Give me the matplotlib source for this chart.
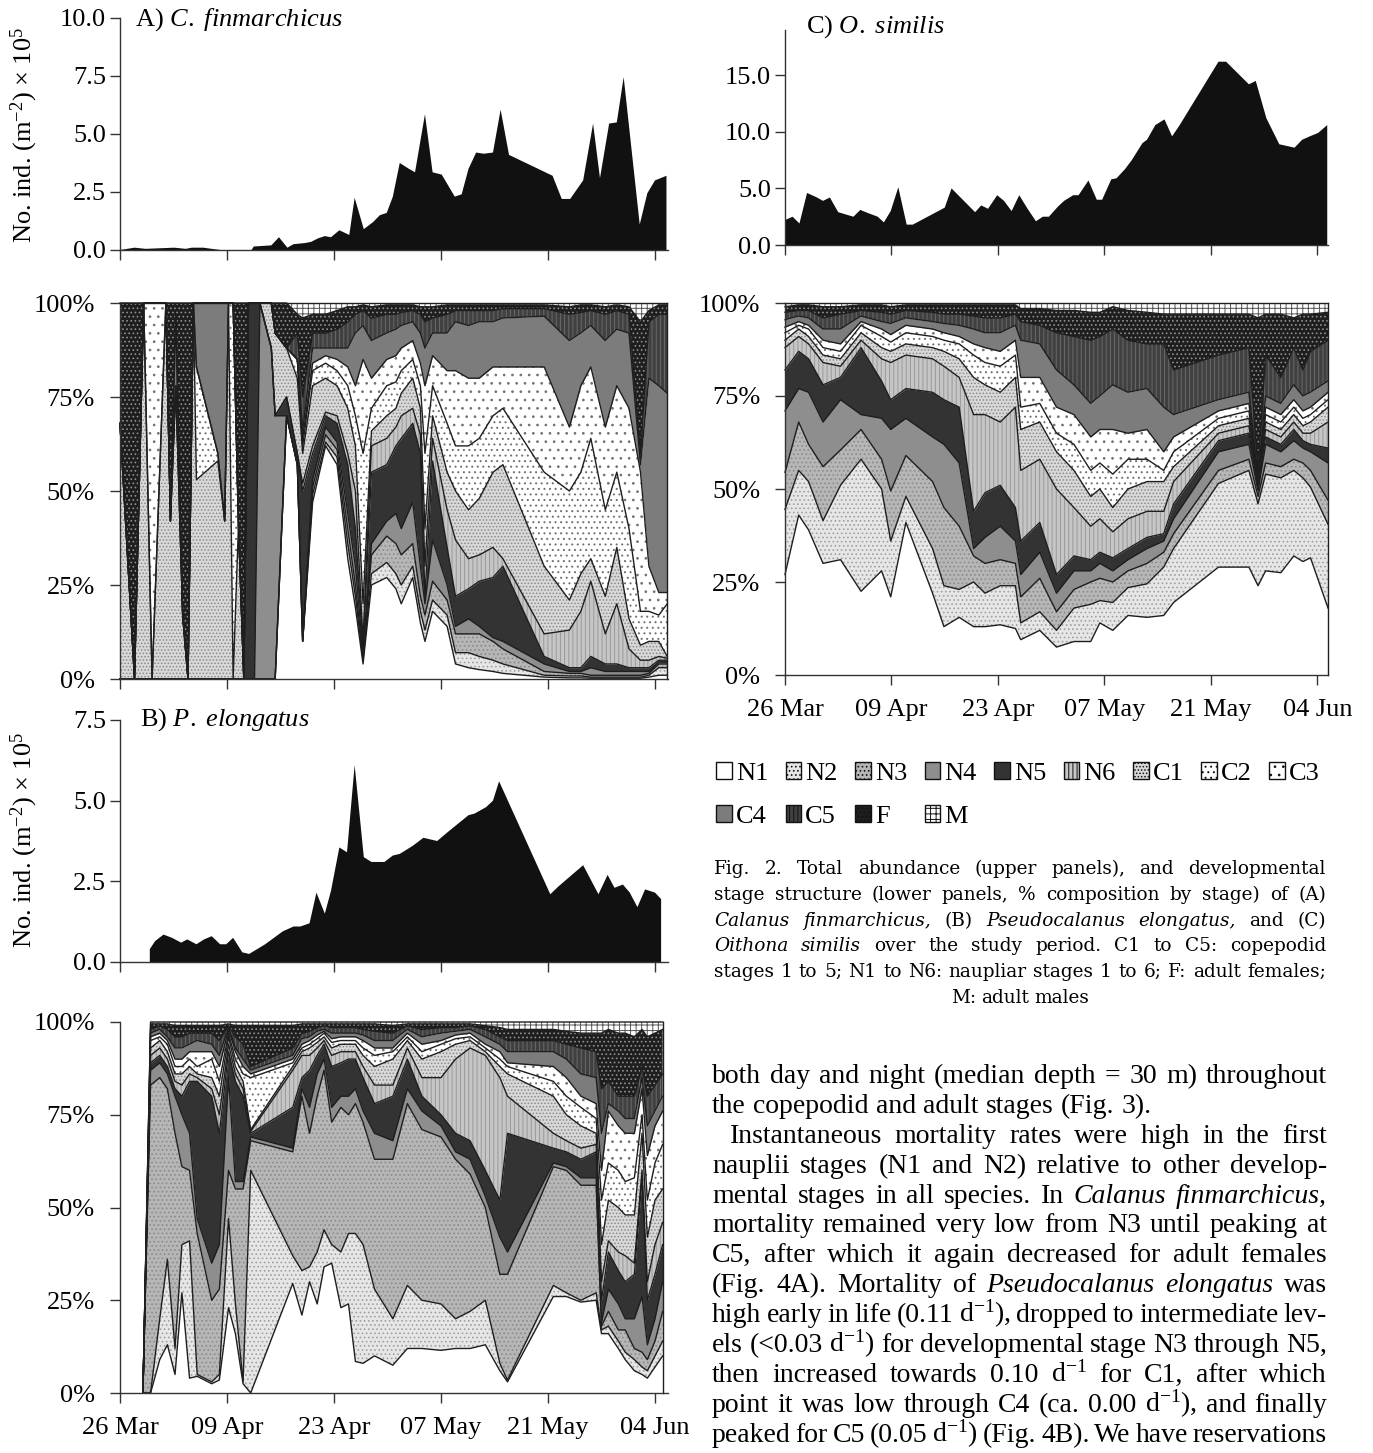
import numpy as np
import matplotlib.pyplot as plt
from matplotlib.patches import Patch

plt.rcParams['font.family'] = ['Liberation Serif', 'DejaVu Serif']
plt.rcParams['mathtext.fontset'] = 'custom'
plt.rcParams['mathtext.rm'] = 'Liberation Serif'
plt.rcParams['mathtext.it'] = 'Liberation Serif:italic'
plt.rcParams['mathtext.bf'] = 'Liberation Serif:bold'
plt.rcParams['hatch.linewidth'] = 0.7

# ---------------- data (days after 26 Mar) ----------------
date_ticks = [0, 14, 28, 42, 56, 70]
date_labels = ['26 Mar', '09 Apr', '23 Apr', '07 May', '21 May', '04 Jun']
stages = ['N1', 'N2', 'N3', 'N4', 'N5', 'N6', 'C1', 'C2', 'C3', 'C4', 'C5', 'F', 'M']

# total abundance (x 10^5 ind m-2)
a_abund_days = [0, 1.9, 3.35, 7.1, 8.6, 9.4, 10.9, 12.0, 13.2, 17.2, 17.5, 19.8, 20.8, 21.9, 22.7, 24.2,
                25.0, 25.9, 26.8, 27.6, 28.7, 30.0, 30.7, 31.9, 33.1, 34.0, 34.9, 35.7, 36.6, 37.8, 38.6,
                39.9, 40.9, 42.1, 43.8, 44.7, 45.6, 46.6, 47.6, 48.8, 49.8, 50.9, 56.6, 57.8, 58.9, 60.6,
                61.9, 62.8, 64.0, 65.0, 65.9, 68.0, 69.0, 70.0, 71.5]
a_abund = [0.0, 0.1, 0.05, 0.1, 0.05, 0.1, 0.1, 0.05, 0.0, 0.0, 0.15, 0.2, 0.55, 0.1, 0.25, 0.3, 0.35, 0.5,
           0.6, 0.55, 0.85, 0.65, 2.25, 0.9, 1.2, 1.5, 1.6, 2.3, 3.75, 3.5, 3.35, 5.85, 3.35, 3.25, 2.3,
           2.4, 3.5, 4.2, 4.15, 4.2, 6.05, 4.1, 3.2, 2.2, 2.2, 3.0, 5.45, 3.1, 5.45, 5.5, 7.45, 1.1, 2.45,
           3.0, 3.2]

b_abund_days = [3.9, 3.9, 4.6, 5.7, 6.8, 8.0, 8.8, 10.0, 11.0, 12.0, 13.1, 13.9, 14.8, 16.0, 16.9, 19.0,
                21.3, 22.7, 23.6, 24.8, 25.7, 26.8, 27.6, 28.7, 29.7, 30.7, 31.9, 32.9, 34.6, 35.7, 36.6,
                38.3, 39.7, 41.5, 43.0, 45.6, 46.4, 47.9, 48.8, 49.6, 56.3, 57.4, 60.6, 62.6, 63.8, 64.7,
                65.8, 66.7, 67.7, 68.7, 70.0, 70.8]
b_abund = [0, 0.4, 0.65, 0.85, 0.75, 0.6, 0.7, 0.55, 0.7, 0.8, 0.55, 0.55, 0.75, 0.3, 0.25, 0.55, 0.95,
           1.1, 1.1, 1.2, 2.15, 1.5, 2.2, 3.55, 3.4, 6.1, 3.25, 3.1, 3.1, 3.3, 3.35, 3.6, 3.85, 3.75, 4.05,
           4.55, 4.6, 4.8, 5.0, 5.6, 2.1, 2.35, 3.0, 2.1, 2.7, 2.3, 2.4, 2.15, 1.7, 2.25, 2.15, 1.95]

c_abund_days = [0, 1.0, 1.9, 2.9, 4.2, 5.0, 5.9, 7.0, 9.0, 9.9, 11.0, 12.2, 13.0, 13.9, 14.9, 16.0, 16.8,
                21.0, 21.9, 25.0, 25.8, 26.7, 27.9, 28.8, 29.8, 30.8, 31.9, 33.0, 33.9, 34.7, 35.9, 36.7,
                37.9, 38.6, 39.9, 41.0, 41.7, 42.9, 43.6, 44.7, 45.6, 47.0, 47.6, 48.7, 49.9, 50.9, 51.9,
                57.0, 58.0, 61.0, 61.9, 63.3, 65.0, 67.0, 68.0, 69.0, 70.1, 71.3]
c_abund = [2.2, 2.5, 1.9, 4.6, 4.2, 3.9, 4.2, 2.9, 2.5, 3.1, 2.8, 2.5, 2.0, 3.0, 5.1, 1.8, 1.8, 3.3, 5.0,
           2.9, 3.5, 3.2, 4.4, 3.9, 3.0, 4.4, 3.2, 2.1, 2.5, 2.5, 3.4, 3.9, 4.4, 4.4, 5.7, 4.0, 4.0, 5.8,
           5.9, 6.7, 7.5, 9.0, 9.3, 10.6, 11.1, 9.6, 10.6, 16.2, 16.2, 14.2, 14.5, 11.2, 8.9, 8.6, 9.3,
           9.6, 9.9, 10.6]

# stage composition: cumulative % at the top of each stage (N1 ... F); M fills to the top
a_days = [0.0, 1.9, 3.1, 4.2, 6.0, 6.6, 7.3, 8.2, 8.9, 9.6, 10.0, 12.8, 13.7, 14.2, 14.8, 15.5, 16.2, 16.8,
          17.6, 18.3, 19.8, 20.3, 21.8, 23.2, 23.9, 25.2, 26.9, 28.4, 29.8, 30.8, 31.8, 32.9, 34.9, 36.1,
          36.8, 38.3, 39.3, 39.9, 40.9, 42.8, 43.9, 45.6, 47.0, 48.8, 50.1, 55.5, 58.8, 60.3, 61.6, 63.5,
          65.0, 66.6, 68.1, 69.2, 70.5, 71.6]
a_n1 = [0, 0, 0, 0, 0, 0, 0, 0, 0, 0, 0, 0, 0, 0, 0, 0, 0, 0, 0, 0, 0, 0, 70, 57, 10, 47, 62, 57, 32, 19,
        4, 25, 27, 24, 20, 27, 15, 10, 18, 14, 4, 3, 2.5, 2, 1.5, 0.5, 0.3, 0.3, 0.2, 0.2, 0.2, 0.2, 0.2,
        0.5, 1, 1]
a_n2 = [0, 0, 0, 0, 0, 0, 0, 0, 0, 0, 0, 0, 0, 0, 0, 0, 0, 0, 0, 0, 0, 0, 70, 57, 10, 49, 63, 59, 36, 22,
        5, 28, 31, 28, 25, 30, 18, 13, 21, 17, 7, 7, 6, 5, 4, 1, 0.8, 0.8, 0.5, 0.5, 0.5, 0.5, 0.5, 1, 3, 3]
a_n3 = [0, 0, 0, 0, 0, 0, 0, 0, 0, 0, 0, 0, 0, 0, 0, 0, 0, 0, 0, 0, 0, 0, 70, 57, 10, 51, 65, 61, 40, 25,
        6, 33, 38, 36, 33, 36, 22, 17, 26, 21, 12, 12, 12, 10, 8, 2, 1.5, 1.5, 1, 1, 1, 1, 1, 1.5, 4, 4]
a_n4 = [0, 0, 0, 0, 0, 0, 0, 0, 0, 0, 0, 0, 0, 0, 0, 0, 0, 0, 0, 100, 88, 70, 70, 57, 10, 53, 67, 63, 44,
        30, 7, 36, 42, 44, 40, 47, 30, 20, 37, 25, 14, 16, 14, 11, 10, 4, 2, 2, 3, 2, 2, 2, 2, 2, 4.5, 4.5]
a_n5 = [0, 0, 0, 0, 0, 0, 0, 0, 0, 0, 0, 0, 0, 0, 0, 0, 0, 100, 100, 100, 88, 70, 75, 60, 50, 60, 70, 68,
        57, 40, 8, 55, 57, 62, 64, 68, 60, 22, 58, 35, 22, 24, 26, 27, 30, 6, 3, 3, 6, 4, 4, 3, 3, 3, 5, 5]
a_n6 = [0, 0, 0, 0, 0, 0, 0, 0, 0, 0, 0, 0, 0, 0, 0, 0, 0, 100, 100, 100, 88, 70, 75, 60, 52, 62, 71, 70,
        60, 50, 10, 62, 64, 67, 70, 72, 65, 30, 64, 45, 37, 32, 33, 35, 32, 12, 13, 18, 26, 12, 20, 8, 5, 5,
        6, 5.5]
a_c1 = [68, 0, 100, 0, 100, 42, 78, 17, 0, 100, 53, 58, 42, 100, 0, 41, 0, 100, 100, 100, 100, 92, 88, 80,
        60, 78, 80, 78, 72, 62, 20, 66, 70, 72, 76, 80, 72, 40, 70, 55, 50, 45, 48, 55, 57, 30, 21, 28, 32,
        22, 35, 16, 9, 10, 10, 6]
a_c2 = [68, 0, 100, 0, 100, 42, 78, 17, 0, 100, 83, 60, 42, 100, 100, 41, 0, 100, 100, 100, 100, 92, 88,
        85, 62, 82, 84, 82, 78, 70, 60, 72, 78, 79, 82, 85, 78, 60, 78, 68, 62, 62, 64, 70, 72, 55, 50, 55,
        64, 45, 55, 40, 18, 18, 17, 20]
a_c3 = [68, 0, 100, 100, 100, 42, 78, 17, 0, 100, 83, 60, 42, 100, 100, 41, 0, 100, 100, 100, 100, 92, 88,
        85, 64, 84, 86, 85, 83, 78, 85, 80, 85, 86, 88, 90, 84, 78, 86, 82, 82, 80, 80, 83, 83, 83, 67, 78,
        83, 67, 78, 72, 55, 30, 23, 23]
a_c4 = [68, 0, 100, 100, 100, 42, 97, 17, 0, 100, 100, 100, 100, 100, 100, 41, 0, 100, 100, 100, 100, 92,
        88, 85, 66, 88, 88, 88, 88, 92, 94, 90, 92, 93, 94, 95, 92, 88, 92, 92, 95, 94, 95, 95, 96, 96.5,
        90, 92, 94, 90, 93, 92, 57, 80, 78, 76]
a_c5 = [68, 0, 100, 100, 100, 42, 97, 17, 0, 100, 100, 100, 100, 100, 100, 41, 0, 100, 100, 100, 100, 92,
        88, 92, 75, 92, 92, 93, 95, 97, 98, 96, 97, 97, 97.5, 98, 97, 95, 96, 97, 98, 98, 98, 98, 98.5,
        98.5, 97, 97.5, 98, 97, 98, 97, 60, 95, 97, 97]
a_f = [100, 100, 100, 100, 100, 100, 100, 100, 100, 100, 100, 100, 100, 100, 100, 100, 100, 100, 100, 100,
       100, 100, 100, 97, 96, 97, 97, 98, 99, 99, 99.5, 99, 99.5, 99.5, 99.5, 99.5, 99, 99, 99, 99.5, 99.5,
       99.5, 99.5, 99.5, 99.5, 99.5, 99, 99.5, 99.5, 99, 99.5, 99, 95, 98, 99.5, 99.5]

b_days = [3.0, 4.0, 5.2, 6.2, 7.2, 8.1, 9.1, 10.1, 12.0, 13.0, 14.2, 15.1, 16.1, 17.1, 22.6, 23.8, 24.8,
          25.8, 26.7, 27.7, 28.9, 29.9, 30.8, 31.8, 33.3, 35.7, 37.6, 39.5, 42.0, 43.9, 45.8, 47.8, 49.7,
          50.7, 56.7, 58.4, 60.3, 62.3, 63.0, 63.9, 65.2, 66.1, 67.3, 68.3, 69.0, 70.0, 71.0]
b_n1 = [0, 0, 9, 13, 5, 27, 4, 4.5, 2.5, 3.5, 23, 16, 2.5, 0, 29.5, 21, 30, 24, 34, 35, 23, 24, 8.5, 8, 10,
        7.5, 12, 12, 11.5, 12, 12, 13, 6, 3, 26, 26, 24.5, 25, 16, 16, 12, 9, 6, 5, 4, 7, 10]
b_n2 = [0, 0, 20, 36, 12, 40, 41, 5, 3, 5, 47, 24, 3, 60, 37, 33, 34, 38, 44, 40, 38, 43, 43, 40, 28, 20,
        29, 25, 24, 20, 22, 25, 8, 3.5, 29, 27, 25, 27, 17, 18, 14, 11, 9, 7, 6, 10, 14]
b_n3 = [0, 83, 85, 82, 70, 61, 60, 43, 25, 28, 60, 55, 55, 68, 65, 80, 70, 80, 87, 73, 77, 75, 78, 73, 63,
        63, 78, 71, 69, 63, 59, 50, 32, 32, 61, 60, 56, 56, 18, 22, 17, 17, 12, 11, 9, 14, 22]
b_n4 = [0, 87, 89, 86, 80, 75, 70, 47, 35, 40, 85, 57, 57, 69, 66, 82, 77, 86, 90, 77, 80, 80, 82, 76, 70,
        68, 82, 76, 72, 65, 63, 53, 42, 38, 62, 61, 58, 58, 19, 28, 24, 20, 20, 26, 13, 20, 30]
b_n5 = [0, 89, 91, 88, 82, 80, 84, 84, 80, 70, 92, 84, 80, 70, 77, 85, 87, 91, 94, 88, 89, 90, 90, 85, 78,
        80, 90, 80, 75, 70, 68, 60, 52, 70, 66, 65, 63, 65, 25, 38, 33, 30, 32, 58, 25, 32, 40]
b_n6 = [0, 91, 93, 90, 84, 83, 86, 85, 82, 75, 94, 86, 82, 70.5, 87, 91, 91, 93, 95, 91, 92, 92, 92, 88,
        83, 83, 93, 85, 85, 90, 93, 91, 85, 80, 70, 68, 66, 67, 30, 41, 38, 37, 35, 60, 30, 40, 46]
b_c1 = [0, 93, 95, 92, 86, 86, 88, 86, 85, 80, 96, 88, 84, 71, 88, 92, 93, 94.5, 96, 93, 94, 94, 94, 91,
        88, 90, 95, 90, 92, 94, 95, 92, 88, 86, 80, 75, 72, 70, 40, 52, 50, 48, 48, 70, 42, 52, 55]
b_c2 = [0, 95, 96, 94, 88, 88, 90, 88, 90, 84, 97, 90, 86, 85, 89, 93, 94, 95.5, 97, 94.5, 95, 95, 95, 93,
        91, 92, 96, 92, 94, 95.5, 96, 93, 90, 88, 84, 80, 77, 74, 52, 62, 60, 57, 58, 75, 52, 62, 67]
b_c3 = [0, 96, 97, 95, 90, 90, 92, 92, 92, 88, 98, 92, 88, 86, 90, 94, 95, 96.5, 97.5, 95.5, 96, 96, 96,
        95, 93, 93, 97, 94, 95, 96.5, 97, 94, 92, 89, 88, 85, 80, 78, 60, 76, 72, 70, 70, 82, 64, 72, 76]
b_c4 = [0, 97, 98, 96, 93, 93, 94, 95, 94, 91, 98.5, 93, 90, 87, 91, 95.5, 96, 97.5, 98, 97, 97, 97, 97,
        96.5, 95, 95, 98, 96, 97, 97.5, 98, 96, 94, 92, 92, 90, 86, 85, 70, 78, 76, 74, 74, 85, 72, 76, 80]
b_c5 = [0, 98, 99, 98, 96, 96, 97, 97, 97, 95, 99, 96, 94, 88, 93, 97, 97.5, 98.5, 99, 98.5, 98.5, 98.5,
        98.5, 98, 97.5, 97, 99, 98, 98.5, 98.5, 99, 98, 96, 95, 95, 94, 93, 92, 82, 84, 80, 80, 80, 88, 80,
        83, 86]
b_f = [0, 99.5, 99.5, 99.5, 99, 99, 99, 99, 99, 99, 99.5, 99, 99, 99, 99, 99.5, 99.5, 99.5, 99.5, 99.5,
       99.5, 99.5, 99.5, 99.5, 99.5, 99, 99.5, 99.5, 99.5, 99.5, 99.5, 99, 98.5, 98, 98, 97.5, 97, 97, 97,
       98, 97, 97, 96, 98, 96, 97, 98]
b_m = [0, 100, 100, 100, 100, 100, 100, 100, 100, 100, 100, 100, 100, 100, 100, 100, 100, 100, 100, 100,
       100, 100, 100, 100, 100, 100, 100, 100, 100, 100, 100, 100, 100, 100, 100, 100, 100, 100, 100, 100,
       100, 100, 100, 100, 100, 100, 100]

c_days = [0, 1.8, 3.1, 5.0, 7.3, 10.0, 12.7, 13.9, 15.9, 19.4, 20.9, 22.9, 24.8, 26.3, 28.3, 30.3, 31.0,
          33.5, 35.7, 38.0, 40.2, 41.4, 43.1, 45.1, 47.6, 49.8, 51.1, 57.0, 61.0, 62.2, 63.2, 65.2, 66.9,
          68.1, 69.1, 71.4]
c_n1 = [27, 43, 39, 30, 31, 22.5, 28, 21, 41, 22, 13, 15.5, 13, 13, 13.5, 12.5, 9.5, 12, 7.5, 9, 9, 14, 12,
        16, 15.5, 16, 19.5, 29, 29, 24, 28, 27.5, 32, 30.5, 31.5, 18]
c_n2 = [44.5, 55, 52, 41.5, 51, 58, 50, 36, 48, 34, 24, 23, 25, 22, 24, 24, 14, 17, 12, 18, 19, 20, 19.5,
        23.5, 24.5, 29, 34, 51.5, 55, 46, 54, 53, 55, 53, 50.5, 40.5]
c_n3 = [54.5, 68, 62, 56, 60.5, 66, 58, 49.5, 59, 52, 45, 40, 32, 30, 31, 30, 21, 26, 17, 23, 25, 26, 25,
        28, 30, 33, 38, 55, 58, 48, 57, 56, 58, 57, 55, 47]
c_n4 = [71, 77, 76, 68, 74, 70, 69, 66, 69, 64, 62, 57, 34, 37, 40, 36, 27, 33, 22, 28, 28, 30, 28, 31, 34,
        36, 42, 60, 62, 49.5, 62, 60, 63, 61, 60, 57]
c_n5 = [82, 87, 85, 78, 80, 88, 79, 74, 77, 76, 74, 72, 44, 49, 51, 45, 36, 41, 27, 32, 31, 33, 31.5, 34,
        37, 38, 46, 63, 65, 50.5, 64, 62, 66, 63, 62, 61]
c_n6 = [88, 91, 89, 84, 83, 90, 85, 84, 86, 85, 83, 80, 70, 70, 68, 72, 55, 58, 50, 45, 40, 42, 38.5, 42,
        44, 44, 52, 65, 67, 51, 66, 64, 68, 65, 65, 68]
c_c1 = [90, 93, 91, 86, 85, 92, 88, 87, 89, 88, 87, 85, 80, 78, 76, 80, 66, 68, 60, 55, 48, 50, 45, 50, 52,
        52, 56, 67, 69, 51.5, 68, 66, 70, 67, 68, 72]
c_c2 = [92, 94, 93, 88, 87, 94, 91, 89.5, 92, 91, 90, 89, 86, 84, 83, 86, 72, 73, 65, 62, 55, 57, 54, 58,
        58, 55, 60, 69, 71, 52, 70, 68, 72, 69, 70, 74]
c_c3 = [93.5, 95, 94, 90, 89, 95, 93, 91.5, 94, 93, 92, 91, 89, 88, 87, 90, 80, 80, 72, 70, 64, 66, 66, 65,
        66, 60, 64, 71, 73, 52.5, 72, 70, 74, 71, 72, 76]
c_c4 = [95.5, 96.5, 96, 93, 93, 96.5, 95, 94.5, 96, 95, 94.5, 94, 93, 92, 92, 94, 90, 89, 82, 78, 73, 75,
        78, 76, 77, 72, 70, 74, 76, 53, 75, 73, 78, 75, 76, 79]
c_c5 = [97.5, 98, 98, 96, 97, 98, 97.5, 97, 98, 97.5, 97, 97, 96.5, 96, 96, 97, 95, 94, 92, 91, 90, 91, 93,
        90, 89, 89, 82, 86, 88, 55, 86, 80, 88, 82, 87, 90]
c_f = [99, 99.5, 99.5, 99, 99, 99.5, 99.5, 99, 99.5, 99.5, 99.5, 99.5, 99.5, 99.5, 99.5, 99.5, 98.5, 98.5,
       98, 98, 97.5, 97.5, 99, 98, 97.5, 97, 97, 97, 97, 96, 97, 97, 96, 97, 97, 97.5]

# ---------------- styles ----------------
stage_faces = ['white', '#e6e6e6', '#b6b6b6', '#8e8e8e', '#333333', '#c6c6c6', '#d8d8d8',
               'white', 'white', '#7c7c7c', '#404040', '#1e1e1e', 'white']
stage_hatches = [None, '....', '....', None, None, '||||', '.....', '...', '..', None, '||||', '....', '+++']
stage_hcols = ['#999999', '#a0a0a0', '#8a8a8a', '#777777', '#333333', '#999999', '#8a8a8a',
               '#707070', '#707070', '#777777', '#6a6a6a', '#909090', '#555555']

W, H = 1373, 1453
fig = plt.figure(figsize=(W / 100, H / 100), dpi=100)


def box(x0, x1, ytop, ybot):
    return fig.add_axes([x0 / W, 1 - ybot / H, (x1 - x0) / W, (ybot - ytop) / H])


def base_style(ax, xmax, show_dates, ypad):
    ax.set_xlim(0, xmax)
    ax.set_xticks(date_ticks)
    if show_dates:
        ax.set_xticklabels(date_labels)
    else:
        ax.set_xticklabels([])
    for s in ['top', 'right']:
        ax.spines[s].set_visible(False)
    for s in ['left', 'bottom']:
        ax.spines[s].set_linewidth(1.0)
        ax.spines[s].set_color('#333333')
    ax.tick_params(axis='both', direction='out', length=7, width=1, color='#333333', labelsize=19)
    ax.tick_params(axis='x', pad=10)
    ax.tick_params(axis='y', pad=ypad)


def draw_abund(ax, days, vals, ymax, yt, xmax):
    ax.fill_between(days, 0, vals, facecolor='#111111', edgecolor='none', linewidth=0)
    ax.set_ylim(0, ymax)
    ax.set_yticks(yt)
    ax.set_yticklabels(['%.1f' % v for v in yt])
    base_style(ax, xmax, False, 3)


def draw_stack(ax, days, cum, top, xmax, show_dates):
    x = np.asarray(days, float)
    bounds = [np.zeros_like(x)] + [np.asarray(c, float) for c in cum] + [np.asarray(top, float)]
    for i in range(13):
        ax.fill_between(x, bounds[i], bounds[i + 1], facecolor=stage_faces[i],
                        edgecolor=stage_hcols[i], hatch=stage_hatches[i], linewidth=0)
    for b in bounds[1:]:
        ax.plot(x, b, color='#1e1e1e', lw=1.0, clip_on=False)
    ax.plot([x[-1], x[-1]], [0, bounds[-1][-1]], color='#1e1e1e', lw=1.0, clip_on=False)
    ax.set_ylim(0, 100)
    ax.set_yticks([0, 25, 50, 75, 100])
    ax.set_yticklabels(['0%', '25%', '50%', '75%', '100%'])
    base_style(ax, xmax, show_dates, 11)


# panel A
axA1 = box(120, 668, 18, 250)
draw_abund(axA1, a_abund_days, a_abund, 10, [0, 2.5, 5, 7.5, 10], 71.7)
axA2 = box(120, 668, 303, 679)
draw_stack(axA2, a_days, [a_n1, a_n2, a_n3, a_n4, a_n5, a_n6, a_c1, a_c2, a_c3, a_c4, a_c5, a_f],
           [100] * len(a_days), 71.7, False)

# panel B
axB1 = box(120, 668, 720, 962)
draw_abund(axB1, b_abund_days, b_abund, 7.5, [0, 2.5, 5, 7.5], 71.7)
axB2 = box(120, 668, 1022, 1393)
draw_stack(axB2, b_days, [b_n1, b_n2, b_n3, b_n4, b_n5, b_n6, b_c1, b_c2, b_c3, b_c4, b_c5, b_f],
           b_m, 71.7, True)

# panel C
axC1 = box(785, 1328, 30, 245)
draw_abund(axC1, c_abund_days, c_abund, 19, [0, 5, 10, 15], 71.4)
axC2 = box(785, 1328, 303, 675)
draw_stack(axC2, c_days, [c_n1, c_n2, c_n3, c_n4, c_n5, c_n6, c_c1, c_c2, c_c3, c_c4, c_c5, c_f],
           [100] * len(c_days), 71.4, True)

# titles and y labels
fig.text(135 / W, 1 - 20 / H, r'A) $\it{C.\ finmarchicus}$', fontsize=19, va='center')
fig.text(140 / W, 1 - 720 / H, r'B) $\it{P.\ elongatus}$', fontsize=19, va='center')
fig.text(806 / W, 1 - 27 / H, r'C) $\it{O.\ similis}$', fontsize=19, va='center')
ylab = r'No. ind. (m$^{-2}$) $\times$ 10$^{5}$'
fig.text(24 / W, 1 - 135 / H, ylab, rotation=90, fontsize=19, ha='center', va='center')
fig.text(24 / W, 1 - 840 / H, ylab, rotation=90, fontsize=19, ha='center', va='center')

# legend (column-major order so rows read N1..C3 / C4 C5 F M)
handles = [Patch(facecolor=stage_faces[i], edgecolor='#111111', hatch=stage_hatches[i], lw=1)
           for i in range(13)]
order = [0, 9, 1, 10, 2, 11, 3, 12, 4, 5, 6, 7, 8]
fig.legend([handles[i] for i in order], [stages[i] for i in order], ncol=9,
           loc='upper left', bbox_to_anchor=(716 / W, 1 - 762 / H), frameon=False, fontsize=19,
           handlelength=0.6, handleheight=0.6, handletextpad=0.15, columnspacing=0.66,
           labelspacing=0.78, borderpad=0, borderaxespad=0)

# caption and body text, justified word by word
renderer = fig.canvas.get_renderer()


def draw_block(lines, x0, x1, y_first, dy, size, family, indent_rows=(), indent=0):
    px = size * 100 / 72
    for i, (line, mode) in enumerate(lines):
        yb = 1 - (y_first + i * dy) / H
        objs = []
        for w in line.split(' '):
            ital = w.startswith('*')
            objs.append(fig.text(0, yb, w.replace('*', ''), fontsize=size, family=family,
                                 style='italic' if ital else 'normal', va='baseline', ha='left'))
        widths = [t.get_window_extent(renderer).width for t in objs]
        start = x0 + (indent if i in indent_rows else 0)
        if mode == 'j' and len(objs) > 1:
            gap = (x1 - start - sum(widths)) / (len(objs) - 1)
        else:
            gap = 0.26 * px
        if mode == 'c':
            total = sum(widths) + gap * (len(objs) - 1)
            start = (x0 + x1) / 2 - total / 2
        x = start
        for t, w in zip(objs, widths):
            t.set_x(x / W)
            x += w + gap


caption = [
    ('Fig. 2. Total abundance (upper panels), and developmental', 'j'),
    ('stage structure (lower panels, % composition by stage) of (A)', 'j'),
    ('*Calanus* *finmarchicus*, (B) *Pseudocalanus* *elongatus*, and (C)', 'j'),
    ('*Oithona* *similis* over the study period. C1 to C5: copepodid', 'j'),
    ('stages 1 to 5; N1 to N6: naupliar stages 1 to 6; F: adult females;', 'j'),
    ('M: adult males', 'c'),
]
draw_block(caption, 714, 1326, 874, 25.8, 13.3, ['DejaVu Serif'])

body = [
    ('both day and night (median depth = 30 m) throughout', 'j'),
    ('the copepodid and adult stages (Fig. 3).', 'l'),
    ('Instantaneous mortality rates were high in the first', 'j'),
    ('nauplii stages (N1 and N2) relative to other develop-', 'j'),
    ('mental stages in all species. In *Calanus* *finmarchicus*,', 'j'),
    ('mortality remained very low from N3 until peaking at', 'j'),
    ('C5, after which it again decreased for adult females', 'j'),
    ('(Fig. 4A). Mortality of *Pseudocalanus* *elongatus* was', 'j'),
    (r'high early in life (0.11 d$^{-1}$), dropped to intermediate lev-', 'j'),
    (r'els (<0.03 d$^{-1}$) for developmental stage N3 through N5,', 'j'),
    (r'then increased towards 0.10 d$^{-1}$ for C1, after which', 'j'),
    (r'point it was low through C4 (ca. 0.00 d$^{-1}$), and finally', 'j'),
    (r'peaked for C5 (0.05 d$^{-1}$) (Fig. 4B). We have reservations', 'j'),
]
draw_block(body, 712, 1327, 1083, 29.9, 20, ['Liberation Serif'], indent_rows=(2,), indent=18)

fig.savefig('out.png', dpi=100)
